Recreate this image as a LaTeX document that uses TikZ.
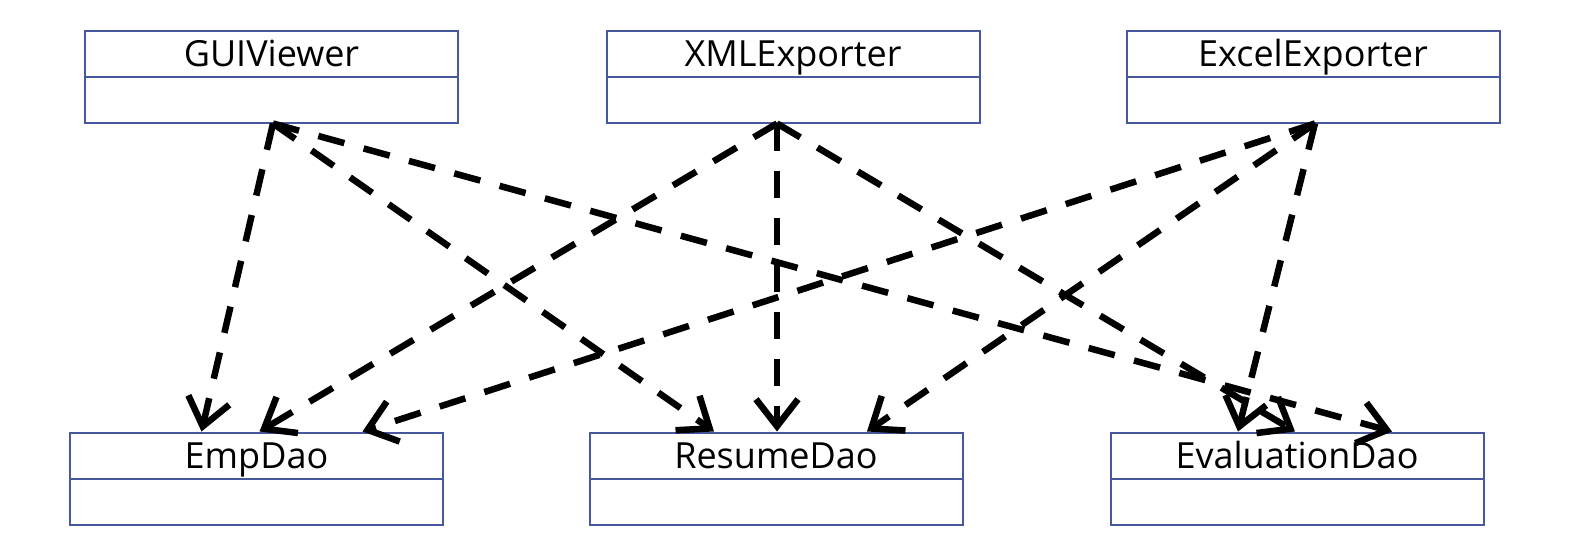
\documentclass[tikz,border=0pt]{standalone}
\usepackage{fontspec}
\setmainfont{Open Sans}
\usetikzlibrary{arrows.meta,calc}
\definecolor{boxblue}{RGB}{72,88,158}
\tikzset{
  umlbox/.style={draw=boxblue, line width=2pt, minimum width=373pt, minimum height=92pt, inner sep=0pt},
  lbl/.style={font=\fontsize{36}{42}\selectfont, inner sep=0pt, anchor=base},
  dep/.style={line width=6.5pt, dash pattern=on 27pt off 20pt,
    -{Straight Barb[length=27pt, width=42pt, line width=6.5pt]}, shorten >=0pt}
}
\begin{document}
\begin{tikzpicture}[x=1pt,y=-1pt]
\useasboundingbox[fill=white] (0,0) rectangle (1596,554);
% top boxes
\node[umlbox] (gui) at (271.5,76.5) {};
\node[umlbox] (xml) at (793,76.5) {};
\node[umlbox] (xls) at (1313,76.5) {};
% bottom boxes
\node[umlbox] (emp) at (256.5,478.5) {};
\node[umlbox] (res) at (776,478.5) {};
\node[umlbox] (eva) at (1297,478.5) {};
\foreach \b in {gui,xml,xls,emp,res,eva}{
  \draw[boxblue, line width=2pt] (\b.west) -- (\b.east);
}
% labels
\node[lbl] (guit) at ($(gui.north)+(0,37)$) {GUIViewer};
\node[lbl] (xmlt) at ($(xml.north)+(0,37)$) {XMLExporter};
\node[lbl] (xlst) at ($(xls.north)+(0,37)$) {ExcelExporter};
\node[lbl] (empt) at ($(emp.north)+(0,37)$) {EmpDao};
\node[lbl] (rest) at ($(res.north)+(0,37)$) {ResumeDao};
\node[lbl] (evat) at ($(eva.north)+(0,37)$) {EvaluationDao};
% connector end points on the box edges
\coordinate (gui-s) at ($(gui.south)+(1.5,0)$);
\coordinate (xml-s) at ($(xml.south)+(-16,0)$);
\coordinate (xls-s) at ($(xls.south)+(2,0)$);
\coordinate (emp-1) at ($(emp.north)+(-55,0)$);
\coordinate (emp-2) at ($(emp.north)+(3,0)$);
\coordinate (emp-3) at ($(emp.north)+(106,0)$);
\coordinate (res-1) at ($(res.north)+(-62,0)$);
\coordinate (res-2) at ($(res.north)+(1,0)$);
\coordinate (res-3) at ($(res.north)+(91,0)$);
\coordinate (eva-1) at ($(eva.north)+(-59,0)$);
\coordinate (eva-2) at ($(eva.north)+(-2,0)$);
\coordinate (eva-3) at ($(eva.north)+(95,0)$);
% dependencies
\draw[dep] (gui-s) -- (emp-1);
\draw[dep] (gui-s) -- (res-1);
\draw[dep] (gui-s) -- (eva-3);
\draw[dep] (xml-s) -- (emp-2);
\draw[dep] (xml-s) -- (res-2);
\draw[dep] (xml-s) -- (eva-2);
\draw[dep] (xls-s) -- (emp-3);
\draw[dep] (xls-s) -- (res-3);
\draw[dep] (xls-s) -- (eva-1);
\end{tikzpicture}
\end{document}
